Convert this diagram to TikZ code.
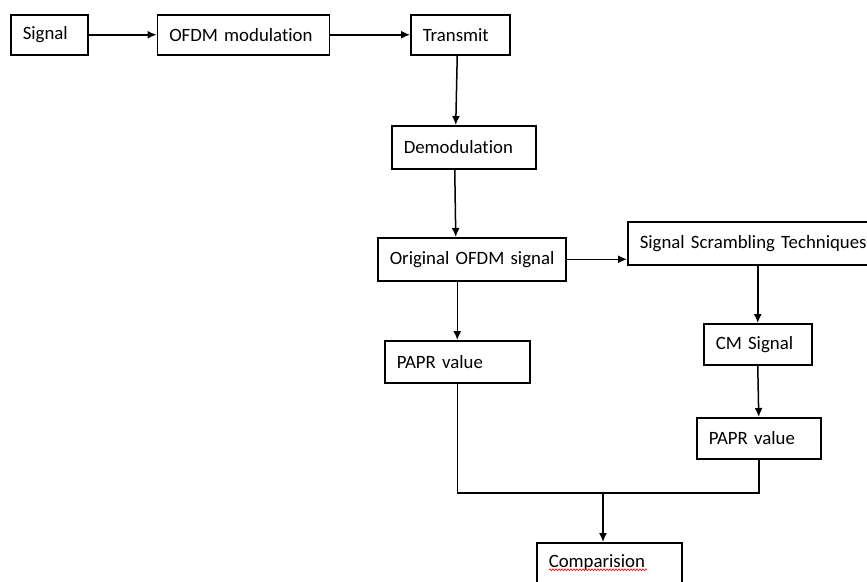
\documentclass[tikz,border=0pt]{standalone}
\usepackage{fontspec}
\setmainfont{Carlito}[WordSpace=0.8, Ligatures=NoCommon]
\usepackage{tikz}
\usetikzlibrary{positioning}
\usetikzlibrary{arrows.meta}
\usetikzlibrary{decorations.pathmorphing}

\tikzset{
  blk/.style={draw, line width=1.5pt, inner xsep=12pt, inner ysep=0pt, align=left,
    anchor=north west, font=\fontsize{18.8}{22}\selectfont,
    execute at begin node={\hbox\bgroup}, execute at end node={\egroup}},
  spell/.style={red, line width=0.6pt, decorate,
    decoration={snake, amplitude=1pt, segment length=3pt}},
  >={Latex[length=9pt,width=8pt]}
}

\begin{document}
\begin{tikzpicture}[x=1pt, y=-1pt, line width=1.5pt]
    \useasboundingbox (0,0) rectangle (867,581);
    % nodes %
    \node[blk, text width=53pt, minimum height=40pt] (sig) at (10,14) {Signal};
    \node[blk, text width=148pt, minimum height=40pt, right=68pt of sig] (ofdm) {OFDM modulation};
    \node[blk, text width=75pt, minimum height=40pt, right=80pt of ofdm] (trans) {Transmit};
    \node[blk, text width=120pt, minimum height=43pt] (dem) at (391,125) {Demodulation};
    \node[blk, text width=164pt, minimum height=43pt] (orig) at (377,237) {Original OFDM signal};
    \node[blk, text width=236pt, minimum height=43pt] (scr) at (627,221) {Signal Scrambling Techniques};
    \node[blk, text width=84pt, minimum height=41pt] (cm) at (703,323) {CM Signal};
    \node[blk, text width=121pt, minimum height=42pt] (paprA) at (384,340) {PAPR value};
    \node[blk, text width=100pt, minimum height=41pt] (paprB) at (696,417) {PAPR value};
    \node[blk, text width=121pt, minimum height=40pt] (comp) at (536,542) {Comparision};
    \coordinate (jn) at (603,493);
    % edges %
    \draw[->] (sig) -- (ofdm);
    \draw[->] (ofdm) -- (trans);
    \draw[->] ([xshift=-3pt]trans.south) -- ([xshift=-8pt]dem.north);
    \draw[->] ([xshift=-9pt]dem.south) -- ([xshift=-16pt]orig.north);
    \draw[->] (orig.east) -- (orig.east -| scr.west);
    \draw[->] (scr.south) -- (cm.north);
    \draw[->] (cm.south) -- (paprB.north);
    \draw[->] (paprA.north |- orig.south) -- (paprA.north);
    \draw (paprA.south) |- (jn) -| (paprB.south);
    \draw[->] (jn) -- (comp.north -| jn);
    % spell check mark %
    \draw[spell] ([xshift=13pt,yshift=-7pt]comp.west) -- ++(98,0);
\end{tikzpicture}
\end{document}
